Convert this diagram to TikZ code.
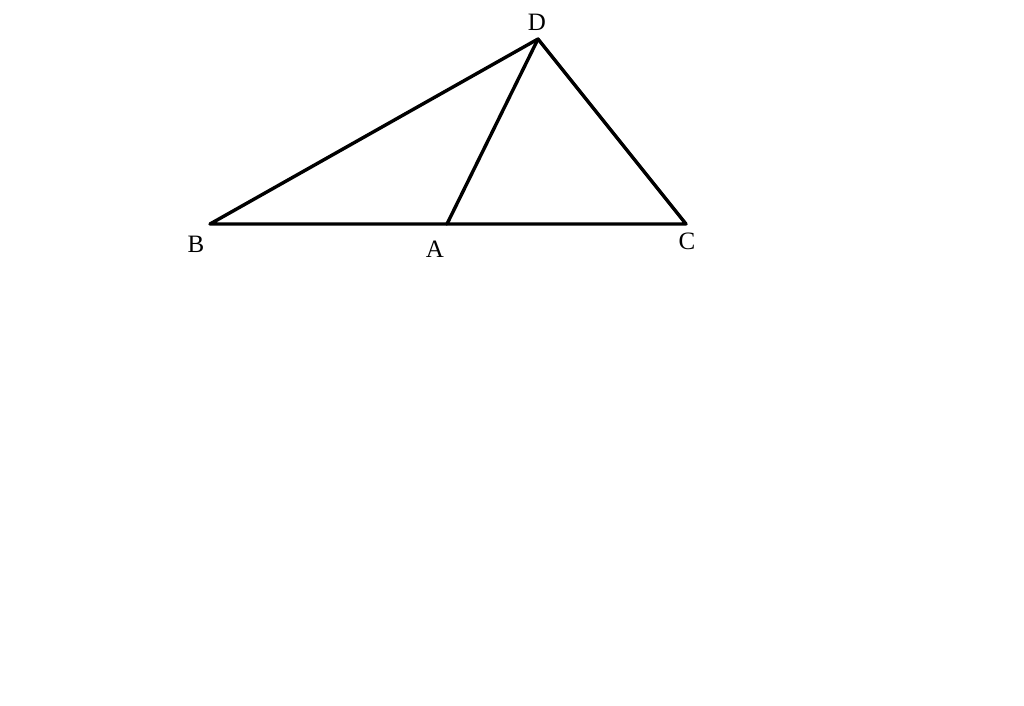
\documentclass[tikz,border=0pt]{standalone}
\usepackage{fontspec}
\setmainfont{Liberation Serif}
\begin{document}
\begin{tikzpicture}[x=1pt,y=-1pt,
  edge/.style={line width=3.4pt,line join=round,line cap=round},
  lbl/.style={inner sep=0pt,font=\fontsize{25}{25}\selectfont}]
\useasboundingbox (0,0) rectangle (1024,705);
\coordinate (B) at (210,224);
\coordinate (A) at (447,224);
\coordinate (C) at (686,224);
\coordinate (D) at (538,39);
\draw[edge] (B) -- (C) -- (D) -- cycle;
\draw[edge] (A) -- (D);
\node[lbl] (lB) at (196,244) {B};
\node[lbl] (lA) at (435,249) {A};
\node[lbl] (lC) at (687,241) {C};
\node[lbl] (lD) at (537,22) {D};
\end{tikzpicture}
\end{document}
